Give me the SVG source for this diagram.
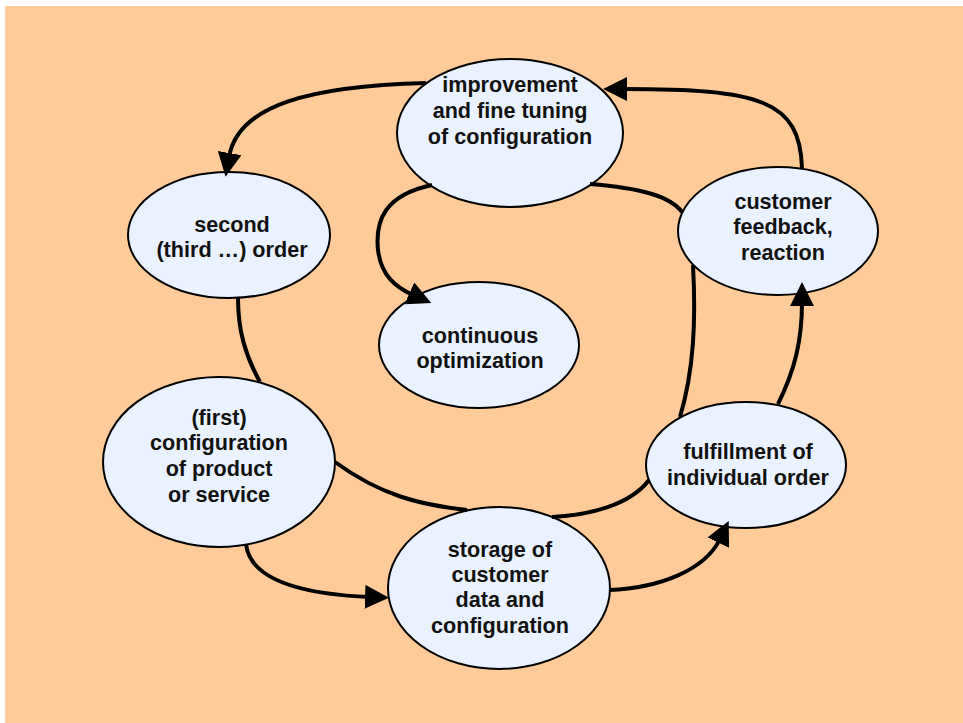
<svg xmlns="http://www.w3.org/2000/svg" width="963" height="723" viewBox="0 0 963 723">
<defs>
<style>
.node{fill:#EAF1FF;stroke:#000;stroke-width:2}
.lbl{font-family:"Liberation Sans",Arial,sans-serif;font-weight:bold;font-size:21.6px;fill:#111;text-anchor:middle}
.con{fill:none;stroke:#000;stroke-width:4}
.arr{marker-end:url(#ah)}
</style>
<marker id="ah" markerUnits="userSpaceOnUse" markerWidth="24" markerHeight="24" refX="4" refY="12" orient="auto">
<path d="M0,0 L24,12 L0,24 z" fill="#000"/>
</marker>
</defs>
<rect x="5" y="6" width="958" height="717" fill="#FFCC99"/>
<g id="n-improvement">
<ellipse class="node" cx="510" cy="133" rx="113" ry="74"/>
<text class="lbl" x="510" y="92">improvement</text>
<text class="lbl" x="510" y="118">and fine tuning</text>
<text class="lbl" x="510" y="144">of configuration</text>
</g>
<g id="n-second">
<ellipse class="node" cx="229" cy="235" rx="101" ry="63"/>
<text class="lbl" x="232" y="232">second</text>
<text class="lbl" x="232" y="257">(third …) order</text>
</g>
<g id="n-feedback">
<ellipse class="node" cx="778" cy="231" rx="100" ry="64"/>
<text class="lbl" x="783" y="209">customer</text>
<text class="lbl" x="783" y="234">feedback,</text>
<text class="lbl" x="783" y="260">reaction</text>
</g>
<g id="n-continuous">
<ellipse class="node" cx="479" cy="345" rx="100" ry="63"/>
<text class="lbl" x="480" y="343">continuous</text>
<text class="lbl" x="480" y="368">optimization</text>
</g>
<g id="n-first">
<ellipse class="node" cx="219" cy="462" rx="116" ry="85"/>
<text class="lbl" x="219" y="425">(first)</text>
<text class="lbl" x="219" y="450">configuration</text>
<text class="lbl" x="219" y="476">of product</text>
<text class="lbl" x="219" y="502">or service</text>
</g>
<g id="n-fulfillment">
<ellipse class="node" cx="746" cy="465" rx="100" ry="63"/>
<text class="lbl" x="748" y="459">fulfillment of</text>
<text class="lbl" x="748" y="485">individual order</text>
</g>
<g id="n-storage">
<ellipse class="node" cx="499" cy="588" rx="111" ry="81"/>
<text class="lbl" x="500" y="557">storage of</text>
<text class="lbl" x="500" y="582">customer</text>
<text class="lbl" x="500" y="607">data and</text>
<text class="lbl" x="500" y="633">configuration</text>
</g>
<g id="connectors">
<path class="con arr" d="M426 83 C310 86 238 105 229 157"/>
<path class="con arr" d="M802 168 C800 100 760 89 623 89"/>
<path class="con arr" d="M778 404 C795 370 802 340 802 302"/>
<path class="con arr" d="M609 590 C660 588 705 570 720 539"/>
<path class="con arr" d="M246 544 C250 580 300 594 369 597"/>
<path class="con arr" d="M432 185 C385 195 375 220 378 250 C381 275 395 287 413 295"/>
<path class="con" d="M590 184 C640 188 670 196 682 212"/>
<path class="con" d="M693 265 C696 320 694 370 680 417"/>
<path class="con" d="M238 298 C238 330 245 355 260 382"/>
<path class="con" d="M335 462 C380 495 420 505 467 510"/>
<path class="con" d="M552 517 C590 515 630 505 649 480"/>
</g>
</svg>
